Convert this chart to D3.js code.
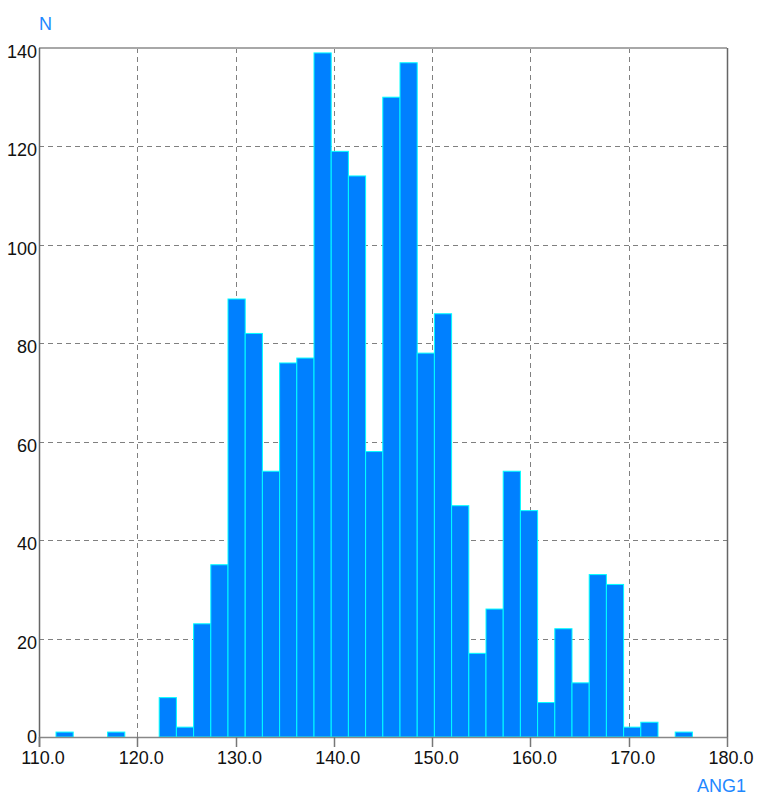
<!DOCTYPE html>
<html>
<head>
<meta charset="utf-8">
<script src="https://cdn.jsdelivr.net/npm/d3@7"></script>
<style>
  body { margin: 0; background: #fff; }
  text { font-family: "Liberation Sans", Arial, sans-serif; }
</style>
</head>
<body>
<div id="chart"></div>
<script>
// histogram of ANG1, bin lower edges and counts
const binWidth = 1.75;
const binLo = [111.73, 113.48, 115.23, 116.98, 118.73, 120.48, 122.23, 123.98, 125.73, 127.48,
  129.23, 130.98, 132.73, 134.48, 136.23, 137.98, 139.73, 141.48, 143.23, 144.98,
  146.73, 148.48, 150.23, 151.98, 153.73, 155.48, 157.23, 158.98, 160.73, 162.48,
  164.23, 165.98, 167.73, 169.48, 171.23, 172.98, 174.73];
const counts = [1, 0, 0, 1, 0, 0, 8, 2, 23, 35,
  89, 82, 54, 76, 77, 139, 119, 114, 58, 130,
  137, 78, 86, 47, 17, 26, 54, 46, 7, 22,
  11, 33, 31, 2, 3, 0, 1];
const xTicks = [110, 120, 130, 140, 150, 160, 170, 180];
const yTicks = [0, 20, 40, 60, 80, 100, 120, 140];

const W = 758, H = 796;
const plot = { left: 39, right: 727, top: 48, bottom: 737 };

const svg = d3.select('#chart').append('svg')
  .attr('width', W)
  .attr('height', H);

const x = d3.scaleLinear().domain([110, 180]).range([plot.left, plot.right]);
const y = d3.scaleLinear().domain([0, 140]).range([plot.bottom, plot.top]);

// grid
svg.append('g').selectAll('line')
  .data(xTicks.filter(d => d > 110 && d < 180))
  .join('line')
  .attr('x1', d => Math.round(x(d)) + 0.5).attr('x2', d => Math.round(x(d)) + 0.5)
  .attr('y1', plot.top).attr('y2', plot.bottom)
  .attr('stroke', '#808080')
  .attr('stroke-dasharray', '5,4');

svg.append('g').selectAll('line')
  .data(yTicks.filter(d => d > 0 && d < 140))
  .join('line')
  .attr('x1', plot.left).attr('x2', plot.right)
  .attr('y1', d => Math.round(y(d)) + 0.5).attr('y2', d => Math.round(y(d)) + 0.5)
  .attr('stroke', '#808080')
  .attr('stroke-dasharray', '5,4');

// bars
svg.append('g').selectAll('rect')
  .data(counts.map((c, i) => ({ lo: binLo[i], c })).filter(d => d.c > 0))
  .join('rect')
  .attr('x', d => x(d.lo))
  .attr('width', d => x(d.lo + binWidth) - x(d.lo))
  .attr('y', d => y(d.c))
  .attr('height', d => y(0) - y(d.c))
  .attr('fill', '#0080ff')
  .attr('stroke', '#00ffff')
  .attr('stroke-width', 1);

// frame
svg.append('line')
  .attr('x1', plot.left).attr('x2', plot.right).attr('y1', plot.top).attr('y2', plot.top)
  .attr('stroke', '#a8a8a8').attr('stroke-width', 2);
svg.append('line')
  .attr('x1', plot.right + 0.5).attr('x2', plot.right + 0.5).attr('y1', plot.top).attr('y2', plot.bottom)
  .attr('stroke', '#666').attr('stroke-width', 1.5);
svg.append('line')
  .attr('x1', plot.left + 0.5).attr('x2', plot.left + 0.5).attr('y1', plot.top).attr('y2', plot.bottom + 10)
  .attr('stroke', '#666').attr('stroke-width', 1.5);
svg.append('line')
  .attr('x1', plot.left).attr('x2', plot.right).attr('y1', plot.bottom + 0.5).attr('y2', plot.bottom + 0.5)
  .attr('stroke', '#888').attr('stroke-width', 1.5);

// x ticks + labels
const xt = svg.append('g').selectAll('g').data(xTicks).join('g');
xt.append('line')
  .attr('x1', d => Math.round(x(d)) + 0.5).attr('x2', d => Math.round(x(d)) + 0.5)
  .attr('y1', plot.bottom).attr('y2', plot.bottom + 10)
  .attr('stroke', '#777').attr('stroke-width', 1.5);
xt.append('text')
  .attr('x', d => x(d) + 4)
  .attr('y', plot.bottom + 27)
  .attr('text-anchor', 'middle')
  .attr('font-size', 18)
  .attr('fill', '#111')
  .text(d => d.toFixed(1));

// y labels (the 0 sits a little higher, clear of the x labels)
svg.append('g').selectAll('text').data(yTicks).join('text')
  .attr('x', plot.left - 2)
  .attr('y', d => y(d) + (d === 0 ? 6 : 10))
  .attr('text-anchor', 'end')
  .attr('font-size', 18)
  .attr('fill', '#111')
  .text(d => d);

// axis titles
svg.append('text')
  .attr('x', 39).attr('y', 30)
  .attr('font-size', 18)
  .attr('fill', '#1e88ff')
  .text('N');
svg.append('text')
  .attr('x', 746).attr('y', 792)
  .attr('text-anchor', 'end')
  .attr('font-size', 18)
  .attr('fill', '#1e88ff')
  .text('ANG1');
</script>
</body>
</html>
